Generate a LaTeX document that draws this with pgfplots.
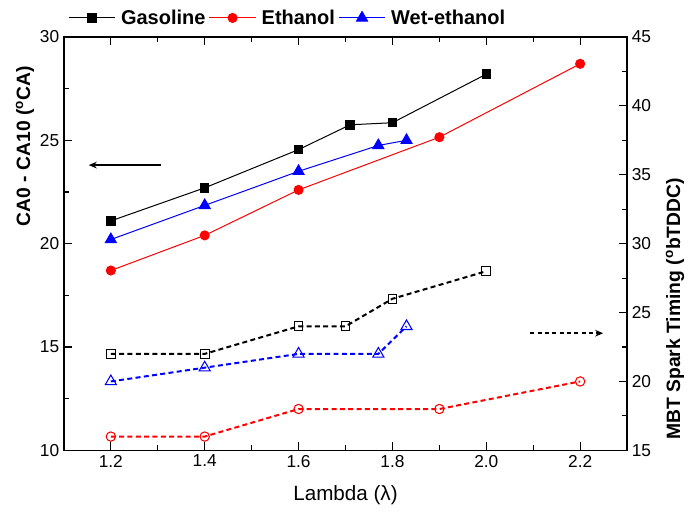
\documentclass[border=0pt]{standalone}
\usepackage{fontspec}
\setmainfont{Liberation Sans}
\usepackage{pgfplots}
\pgfplotsset{compat=1.18}
\usetikzlibrary{arrows.meta}

\pgfplotsset{
  base/.style={
    width=423pt, height=310.5pt, scale only axis,
    xmin=1.1, xmax=2.3,
    xtick={1.2,1.4,1.6,1.8,2.0,2.2}, minor x tick num=1,
    xticklabel style={/pgf/number format/.cd, fixed, fixed zerofill, precision=1},
    minor y tick num=1,
    tick align=inside, major tick length=6pt, minor tick length=4pt,
    tick label style={font=\fontsize{13}{15}\selectfont},
    /pgf/number format/assume math mode=true,
    label style={font=\fontsize{14.5}{16}\selectfont},
    axis line style={line width=0.9pt},
    every tick/.style={black, line width=0.8pt},
  },
  solidser/.style={line width=0.75pt, mark size=3.2pt},
  dashser/.style={line width=1.5pt, dash pattern=on 3.75pt off 2.5pt, mark size=3.3pt,
    mark options={solid, fill=white, line width=0.8pt}},
}

\begin{document}
\begin{tikzpicture}
\begin{axis}[base, name=a,
  ymin=10, ymax=30, ytick={10,15,20,25,30}, ytick pos=left,
  xlabel={Lambda (λ)},
  xlabel style={at={(axis description cs:0.5,-0.108)}, anchor=center,
    font=\fontsize{15.5}{17}\selectfont},
  ylabel={\bfseries CA0 - CA10 (\textsuperscript{o}CA)},
  ylabel style={at={(axis description cs:-0.069,0.736)}, anchor=center},
  legend style={at={(axis description cs:0.0,1.046)}, anchor=west, draw=none, fill=none,
    legend columns=-1, font=\bfseries\fontsize{15}{17}\selectfont,
    /tikz/every even column/.append style={column sep=0.5pt},
    /tikz/every odd column/.append style={column sep=2pt}},
  legend image code/.code={\draw[mark repeat=2,mark phase=2]
    plot coordinates {(0pt,0pt) (17.5pt,0pt) (35pt,0pt)};},
]
\addplot[solidser, black, mark=square*] coordinates {
  (1.2,21.1) (1.4,22.7) (1.6,24.55) (1.71,25.75) (1.8,25.85) (2.0,28.2)};
\addplot[solidser, red, mark=*, mark size=3.4pt] coordinates {
  (1.2,18.7) (1.4,20.4) (1.6,22.6) (1.9,25.15) (2.2,28.7)};
\addplot[solidser, blue, mark=triangle*, mark size=4.8pt] coordinates {
  (1.2,20.2) (1.4,21.85) (1.6,23.5) (1.77,24.75) (1.83,25.0)};
\legend{Gasoline, Ethanol, Wet-ethanol}
\draw[line width=1.2pt, -{Stealth[length=6pt,width=5pt]}]
  (axis cs:1.306,23.8) -- (axis cs:1.153,23.8);
\end{axis}

\begin{axis}[base,
  ymin=15, ymax=45, ytick={15,20,25,30,35,40,45},
  axis x line=none, axis y line*=right,
  ylabel={\bfseries MBT Spark Timing (\textsuperscript{o}bTDDC)},
  ylabel style={at={(axis description cs:1.085,0.342)}, anchor=center},
]
\addplot[dashser, black, mark=square] coordinates {
  (1.2,22) (1.4,22) (1.6,24) (1.7,24) (1.8,26) (2.0,28)};
\addplot[dashser, red, mark=o, mark size=3.5pt] coordinates {
  (1.2,16) (1.4,16) (1.6,18) (1.9,18) (2.2,20)};
\addplot[dashser, blue, mark=triangle, mark size=4.8pt] coordinates {
  (1.2,20) (1.4,21) (1.6,22) (1.77,22) (1.83,24)};
\draw[line width=1.4pt, dash pattern=on 3pt off 2.5pt, -{Stealth[length=6pt,width=5pt]}]
  (axis cs:2.094,23.5) -- (axis cs:2.249,23.5);
\end{axis}

\pgfresetboundingbox
\path ([shift={(-48pt,-47.25pt)}]a.south west) rectangle ([shift={(48pt,27.75pt)}]a.north east);
\end{tikzpicture}
\end{document}
